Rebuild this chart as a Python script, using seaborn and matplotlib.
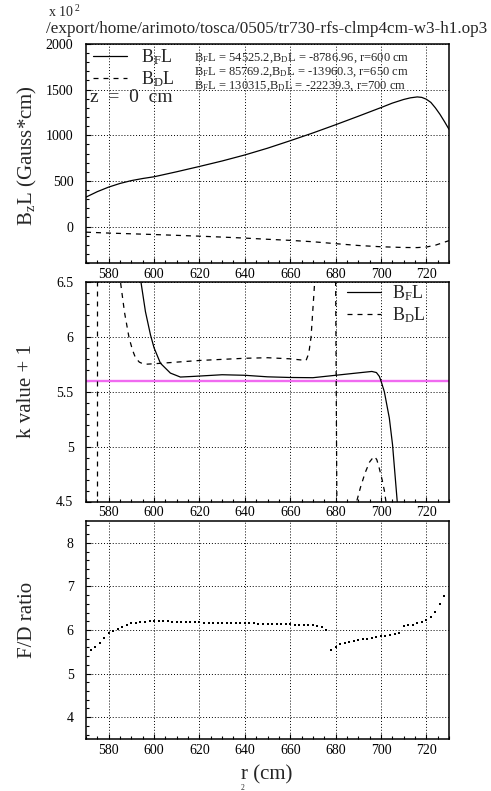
import numpy as np
import pandas as pd
import matplotlib
matplotlib.use("Agg")
import matplotlib.pyplot as plt
import seaborn as sns
from matplotlib.lines import Line2D
from matplotlib.ticker import MultipleLocator, FormatStrFormatter

# ---------------- data ----------------
# panel 1 : B_F L and B_D L  (units of 10^2 Gauss*cm)
r_bf = [570, 575, 580, 585, 590, 595, 600, 610, 620, 630, 640, 650, 660, 670, 680,
        690, 700, 705, 710, 713, 716, 718, 720, 722, 724, 726, 728, 730]
bfl = [322, 382, 432, 472, 503, 526, 545, 600, 658, 718, 784, 858, 940, 1025, 1115,
       1208, 1303, 1352, 1392, 1410, 1420, 1415, 1395, 1360, 1300, 1230, 1150, 1065]

r_bd = [570, 580, 590, 600, 610, 620, 630, 640, 650, 660, 670, 680, 690, 700, 710,
        716, 720, 724, 727, 730]
bdl = [-62, -72, -80, -88, -97, -106, -116, -127, -140, -152, -167, -188, -208, -222,
       -230, -231, -225, -205, -180, -155]

# panel 2 : k value + 1
r_kf = [593.5, 594, 596.2, 598.4, 600, 602.8, 607.2, 611.6, 617.5, 630, 640, 650, 660,
        670, 680, 690, 696, 698, 699.3, 700, 701.5, 703.7, 705.1, 707.1, 707.6]
kf = [6.62, 6.53, 6.23, 6.02, 5.90, 5.76, 5.67, 5.634, 5.64, 5.655, 5.65, 5.636, 5.63,
      5.628, 5.65, 5.672, 5.685, 5.675, 5.64, 5.60, 5.50, 5.26, 5.02, 4.52, 4.40]

# B_D L k value: branches separated by poles
r_kd = [575.0, 575.0,
        584.5, 585.2, 587, 589, 590.5, 591.8, 593.5, 595.6, 600, 610, 620, 630, 640, 650,
        660, 667, 668.2, 669.2, 670.7, 671.2,
        680.0, 680.6,
        688.5, 689.3, 691, 693, 695, 696.5, 697.2, 698.2, 699.3, 700.5, 701.5, 702.2, 702.6]
kd = [6.6, 4.4,
      6.58, 6.5, 6.22, 5.99, 5.88, 5.81, 5.77, 5.75, 5.755, 5.77, 5.785, 5.795, 5.805, 5.81,
      5.80, 5.785, 5.85, 6.0, 6.47, 6.6,
      6.6, 4.4,
      4.42, 4.5, 4.63, 4.76, 4.86, 4.90, 4.91, 4.88, 4.80, 4.70, 4.60, 4.50, 4.42]
kd_branch = [0, 0] + [1] * 20 + [2, 2] + [3] * 13

k_target = 5.6

# panel 3 : F/D ratio
r_fd = list(range(572, 730, 2))
fd = [5.53, 5.60, 5.70, 5.81, 5.92, 5.98, 6.03, 6.08, 6.12, 6.15, 6.17, 6.18, 6.19, 6.20,
      6.20, 6.20, 6.20, 6.20, 6.19, 6.19, 6.19, 6.18, 6.18, 6.18, 6.18, 6.17, 6.17, 6.17,
      6.17, 6.16, 6.16, 6.16, 6.16, 6.15, 6.15, 6.15, 6.15, 6.14, 6.14, 6.14, 6.14, 6.13,
      6.13, 6.13, 6.13, 6.12, 6.12, 6.12, 6.12, 6.11, 6.10, 6.08, 6.00, 5.55, 5.62, 5.68,
      5.71, 5.73, 5.75, 5.77, 5.79, 5.80, 5.82, 5.84, 5.86, 5.87, 5.89, 5.91, 5.94, 6.09,
      6.11, 6.12, 6.15, 6.18, 6.22, 6.30, 6.41, 6.59, 6.79]

# annotation values
ann_r = [600, 650, 700]
ann_bf = [54525.2, 85769.2, 130315]
ann_bd = [-8786.96, -13960.3, -22239.3]

title = "/export/home/arimoto/tosca/0505/tr730-rfs-clmp4cm-w3-h1.op3"

# ---------------- style ----------------
sns.set_theme(style="white")
plt.rcParams['font.family'] = ['Liberation Serif', 'DejaVu Serif']
plt.rcParams['mathtext.fontset'] = 'custom'
plt.rcParams['mathtext.rm'] = 'Liberation Serif'
plt.rcParams['mathtext.it'] = 'Liberation Serif:italic'
plt.rcParams['mathtext.default'] = 'regular'

W, H = 491, 791
fig = plt.figure(figsize=(W / 100, H / 100), dpi=100)
fig.patch.set_facecolor('white')


def rect(l, t, r, b):
    return [l / W, 1 - b / H, (r - l) / W, (b - t) / H]


ax1 = fig.add_axes(rect(86, 44, 449, 263))
ax2 = fig.add_axes(rect(86, 282, 449, 501.5))
ax3 = fig.add_axes(rect(86, 521, 449, 739))

DASH = (0, (4, 4))
LW = 0.9


def style(ax, ylim, ymaj, ymin_):
    ax.set_xlim(570, 730)
    ax.set_ylim(*ylim)
    ax.set_facecolor('white')
    ax.xaxis.set_major_locator(MultipleLocator(20))
    ax.xaxis.set_minor_locator(MultipleLocator(5))
    ax.yaxis.set_major_locator(MultipleLocator(ymaj))
    ax.yaxis.set_minor_locator(MultipleLocator(ymin_))
    ax.yaxis.set_major_formatter(FormatStrFormatter('%g'))
    ax.tick_params(which='both', direction='in', top=False, right=False,
                   bottom=True, left=True, labelsize=10, colors='black')
    ax.tick_params(which='major', length=3.8, width=0.8)
    ax.tick_params(which='minor', length=2.0, width=0.8)
    ax.tick_params(axis='y', which='both', pad=9)
    ax.tick_params(axis='x', which='both', pad=3.5)
    ax.grid(True, which='major', color='black', linestyle=(0, (1, 2)), linewidth=0.7)
    ax.set_axisbelow(True)
    for s in ax.spines.values():
        s.set_visible(True)
        s.set_color('black')
        s.set_linewidth(1.1)
    ax.set_xlabel('')
    ax.set_ylabel('')


# panel 1
sns.lineplot(x=r_bf, y=bfl, ax=ax1, color='black', lw=LW, sort=False, estimator=None)
sns.lineplot(x=r_bd, y=bdl, ax=ax1, color='black', lw=LW, sort=False, estimator=None,
             linestyle=DASH)
style(ax1, (-400, 2000), 500, 100)

# panel 2
ax2.axhline(k_target, color='#f06af0', lw=1.7, zorder=1.5)
sns.lineplot(x=r_kf, y=kf, ax=ax2, color='black', lw=LW, sort=False, estimator=None)
dfk = pd.DataFrame({'r': r_kd, 'k': kd, 'branch': kd_branch})
sns.lineplot(data=dfk, x='r', y='k', units='branch', estimator=None, sort=False, ax=ax2,
             color='black', lw=LW, linestyle=DASH)
style(ax2, (4.5, 6.5), 0.5, 0.1)

# panel 3
sns.scatterplot(x=r_fd, y=fd, ax=ax3, marker='s', s=4.0, color='black', linewidth=0)
style(ax3, (3.5, 8.5), 1, 0.2)

# legends
hF = Line2D([], [], color='black', lw=LW)
hD = Line2D([], [], color='black', lw=LW, linestyle=DASH)
labF = r'B$_{\rm F}$L'
labD = r'B$_{\rm D}$L'
leg1 = ax1.legend([hF, hD], [labF, labD], loc='upper left',
                  bbox_to_anchor=(93 / W, 1 - 47 / H), bbox_transform=fig.transFigure,
                  frameon=False, fontsize=13, handlelength=1.9, handletextpad=0.75,
                  labelspacing=0.15, borderpad=0, borderaxespad=0)
leg2 = ax2.legend([hF, hD], [labF, labD], loc='upper left',
                  bbox_to_anchor=(347 / W, 1 - 283 / H), bbox_transform=fig.transFigure,
                  frameon=False, fontsize=13, handlelength=1.9, handletextpad=0.6,
                  labelspacing=0.15, borderpad=0, borderaxespad=0)

fig.text(90 / W, 1 - 97 / H, 'z  =  0  cm', fontsize=14, ha='left', va='center')

ann_y = [58, 72, 86]
for yy, rr, bf, bd in zip(ann_y, ann_r, ann_bf, ann_bd):
    fig.text(194 / W, 1 - yy / H,
             r'B$_{\rm F}$L = %g,B$_{\rm D}$L = %g, r=%d cm' % (bf, bd, rr),
             fontsize=9, ha='left', va='center')

# titles / labels
fig.text(48 / W, 1 - 12 / H, r'x 10$^{\ 2}$', fontsize=10, ha='left', va='center')
fig.text(46 / W, 1 - 29 / H, title, fontsize=12.3, ha='left', va='center')
fig.text(27 / W, 1 - 156 / H, r'B$_{z}$L (Gauss*cm)', fontsize=15, rotation=90,
         ha='center', va='center')
fig.text(27 / W, 1 - 391 / H, 'k value + 1', fontsize=15, rotation=90,
         ha='center', va='center')
fig.text(27 / W, 1 - 620 / H, 'F/D ratio', fontsize=15, rotation=90,
         ha='center', va='center')
fig.text(267 / W, 1 - 775 / H, 'r (cm)', fontsize=15, ha='center', va='center')
fig.text(243 / W, 1 - 788.5 / H, '2', fontsize=5.5, ha='center', va='center')

fig.savefig('out.png', dpi=100, facecolor='white')
